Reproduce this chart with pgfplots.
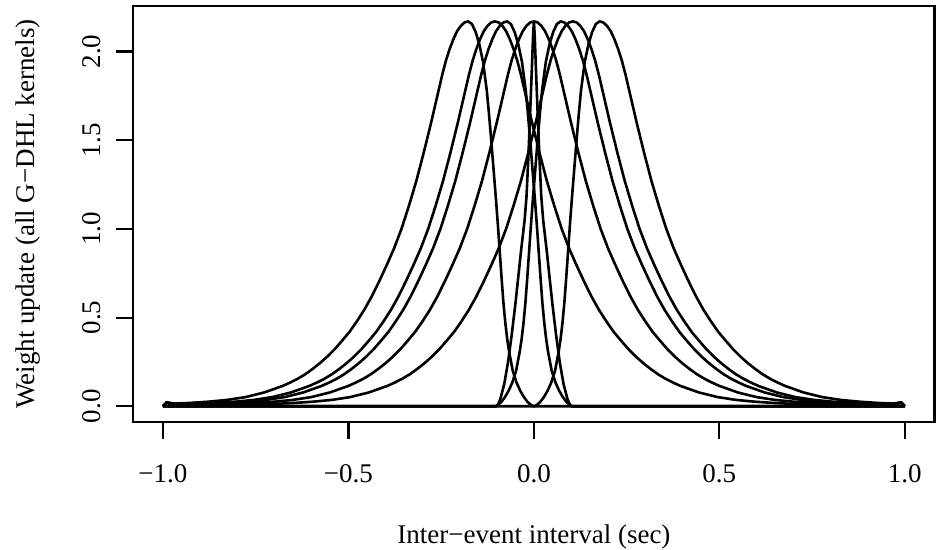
\documentclass[border=0pt]{standalone}
\usepackage{fontspec}
\setmainfont{Liberation Serif}
\usepackage{pgfplots}
\pgfplotsset{compat=1.18}
\newcommand\lbl{\fontsize{13.5}{16}\selectfont}
\begin{document}
\lbl
\begin{tikzpicture}
\useasboundingbox (-66.65pt,-64.15pt) rectangle (402.35pt,210.85pt);
\begin{axis}[
  scale only axis, width=400.6pt, height=207.85pt,
  xmin=-1.08, xmax=1.08, ymin=-0.0868, ymax=2.2568,
  axis line style={line width=1.1pt},
  tick style={line width=1.1pt, black},
  tick align=outside, major tick length=8.5pt,
  tick pos=left,
  xtick={-1,-0.5,0,0.5,1}, xticklabels={−1.0,−0.5,0.0,0.5,1.0},
  ytick={0,0.5,1,1.5,2}, yticklabels={0.0,0.5,1.0,1.5,2.0},
  xticklabel style={font=\lbl, anchor=base, yshift=-22.15pt},
  yticklabel style={font=\lbl, xshift=-7.9pt, rotate=90, anchor=base},
  xlabel={Inter−event interval (sec)},
  ylabel={Weight update (all G−DHL kernels)},
  every axis x label/.style={at={(rel axis cs:0.5,0)}, anchor=base, yshift=-61.15pt, font=\lbl},
  every axis y label/.style={at={(rel axis cs:0,0.5)}, xshift=-49.15pt, rotate=90, anchor=base, font=\lbl},
  no markers,
  every axis plot post/.append style={black, solid, mark=none, line width=1.3pt, line join=round},
]
% C : centred broad kernel
\addplot coordinates {(-1,0) (-0.99,0.02) (-0.95,0.0065) (-0.90,0.008) (-0.85,0.011) (-0.80,0.014) (-0.75,0.019) (-0.70,0.026) (-0.65,0.036) (-0.60,0.052) (-0.55,0.078) (-0.50,0.115) (-0.48,0.134) (-0.46,0.155) (-0.44,0.180) (-0.42,0.210) (-0.40,0.243) (-0.38,0.280) (-0.36,0.322) (-0.34,0.370) (-0.32,0.420) (-0.30,0.480) (-0.28,0.545) (-0.26,0.620) (-0.24,0.705) (-0.22,0.795) (-0.20,0.890) (-0.19,0.945) (-0.18,1.000) (-0.17,1.065) (-0.16,1.130) (-0.15,1.200) (-0.14,1.270) (-0.13,1.350) (-0.12,1.430) (-0.11,1.515) (-0.10,1.600) (-0.09,1.690) (-0.08,1.780) (-0.07,1.870) (-0.06,1.950) (-0.05,2.015) (-0.04,2.070) (-0.03,2.115) (-0.02,2.145) (-0.01,2.164) (0,2.170) (0.01,2.164) (0.02,2.145) (0.03,2.115) (0.04,2.070) (0.05,2.015) (0.06,1.950) (0.07,1.870) (0.08,1.780) (0.09,1.690) (0.10,1.600) (0.11,1.515) (0.12,1.430) (0.13,1.350) (0.14,1.270) (0.15,1.200) (0.16,1.130) (0.17,1.065) (0.18,1.000) (0.19,0.945) (0.20,0.890) (0.22,0.795) (0.24,0.705) (0.26,0.620) (0.28,0.545) (0.30,0.480) (0.32,0.420) (0.34,0.370) (0.36,0.322) (0.38,0.280) (0.40,0.243) (0.42,0.210) (0.44,0.180) (0.46,0.155) (0.48,0.134) (0.50,0.115) (0.55,0.078) (0.60,0.052) (0.65,0.036) (0.70,0.026) (0.75,0.019) (0.80,0.014) (0.85,0.011) (0.90,0.008) (0.95,0.0065) (0.99,0.02) (1,0)};
% P1 : peak -0.177, zero for x>0
\addplot coordinates {(-1,0) (-0.99,0.022) (-0.977,0.014) (-0.927,0.019) (-0.877,0.026) (-0.827,0.036) (-0.777,0.052) (-0.727,0.078) (-0.677,0.115) (-0.657,0.134) (-0.637,0.155) (-0.617,0.18) (-0.597,0.21) (-0.577,0.243) (-0.557,0.28) (-0.537,0.322) (-0.517,0.37) (-0.497,0.42) (-0.477,0.48) (-0.457,0.545) (-0.437,0.62) (-0.417,0.705) (-0.397,0.795) (-0.377,0.89) (-0.367,0.945) (-0.357,1.00) (-0.347,1.065) (-0.337,1.13) (-0.327,1.20) (-0.317,1.27) (-0.307,1.35) (-0.297,1.43) (-0.287,1.515) (-0.277,1.60) (-0.267,1.69) (-0.257,1.78) (-0.247,1.87) (-0.237,1.95) (-0.227,2.015) (-0.217,2.07) (-0.207,2.115) (-0.197,2.145) (-0.187,2.164) (-0.177,2.17) (-0.167,2.155) (-0.157,2.11) (-0.147,2.04) (-0.137,1.94) (-0.127,1.78) (-0.122,1.67) (-0.117,1.55) (-0.112,1.42) (-0.107,1.29) (-0.102,1.16) (-0.097,1.02) (-0.092,0.87) (-0.087,0.72) (-0.082,0.58) (-0.077,0.47) (-0.072,0.38) (-0.067,0.31) (-0.057,0.20) (-0.047,0.135) (-0.037,0.088) (-0.027,0.052) (-0.017,0.024) (-0.007,0.006) (0,0) (1,0)};
% P1' : peak 0.177, zero for x<0
\addplot coordinates {(-1,0) (0,0) (0.007,0.006) (0.017,0.024) (0.027,0.052) (0.037,0.088) (0.047,0.135) (0.057,0.20) (0.067,0.31) (0.072,0.38) (0.077,0.47) (0.082,0.58) (0.087,0.72) (0.092,0.87) (0.097,1.02) (0.102,1.16) (0.107,1.29) (0.112,1.42) (0.117,1.55) (0.122,1.67) (0.127,1.78) (0.137,1.94) (0.147,2.04) (0.157,2.11) (0.167,2.155) (0.177,2.17) (0.187,2.164) (0.197,2.145) (0.207,2.115) (0.217,2.07) (0.227,2.015) (0.237,1.95) (0.247,1.87) (0.257,1.78) (0.267,1.69) (0.277,1.60) (0.287,1.515) (0.297,1.43) (0.307,1.35) (0.317,1.27) (0.327,1.20) (0.337,1.13) (0.347,1.065) (0.357,1.00) (0.367,0.945) (0.377,0.89) (0.397,0.795) (0.417,0.705) (0.437,0.62) (0.457,0.545) (0.477,0.48) (0.497,0.42) (0.517,0.37) (0.537,0.322) (0.557,0.28) (0.577,0.243) (0.597,0.21) (0.617,0.18) (0.637,0.155) (0.657,0.134) (0.677,0.115) (0.727,0.078) (0.777,0.052) (0.827,0.036) (0.877,0.026) (0.927,0.019) (0.977,0.014) (0.99,0.022) (1,0)};
% P3' : peak 0.072
\addplot coordinates {(-1,0) (-0.105,0) (-0.098,0.006) (-0.088,0.024) (-0.078,0.052) (-0.068,0.088) (-0.058,0.135) (-0.048,0.20) (-0.038,0.31) (-0.033,0.38) (-0.028,0.47) (-0.023,0.58) (-0.018,0.72) (-0.013,0.87) (-0.008,1.02) (-0.003,1.16) (0.002,1.29) (0.007,1.42) (0.012,1.55) (0.017,1.67) (0.022,1.78) (0.032,1.94) (0.042,2.04) (0.052,2.11) (0.062,2.155) (0.072,2.17) (0.082,2.164) (0.092,2.145) (0.102,2.115) (0.112,2.07) (0.122,2.015) (0.132,1.95) (0.142,1.87) (0.152,1.78) (0.162,1.69) (0.172,1.60) (0.182,1.515) (0.192,1.43) (0.202,1.35) (0.212,1.27) (0.222,1.20) (0.232,1.13) (0.242,1.065) (0.252,1.00) (0.262,0.945) (0.272,0.89) (0.292,0.795) (0.312,0.705) (0.332,0.62) (0.352,0.545) (0.372,0.48) (0.392,0.42) (0.412,0.37) (0.432,0.322) (0.452,0.28) (0.472,0.243) (0.492,0.21) (0.512,0.18) (0.532,0.155) (0.552,0.134) (0.572,0.115) (0.622,0.078) (0.672,0.052) (0.722,0.036) (0.772,0.026) (0.822,0.019) (0.872,0.014) (0.922,0.011) (0.972,0.008) (0.99,0.022) (1,0)};
% P3 : peak -0.072
\addplot coordinates {(-1,0) (-0.99,0.022) (-0.972,0.008) (-0.922,0.011) (-0.872,0.014) (-0.822,0.019) (-0.772,0.026) (-0.722,0.036) (-0.672,0.052) (-0.622,0.078) (-0.572,0.115) (-0.552,0.134) (-0.532,0.155) (-0.512,0.18) (-0.492,0.21) (-0.472,0.243) (-0.452,0.28) (-0.432,0.322) (-0.412,0.37) (-0.392,0.42) (-0.372,0.48) (-0.352,0.545) (-0.332,0.62) (-0.312,0.705) (-0.292,0.795) (-0.272,0.89) (-0.262,0.945) (-0.252,1.00) (-0.242,1.065) (-0.232,1.13) (-0.222,1.20) (-0.212,1.27) (-0.202,1.35) (-0.192,1.43) (-0.182,1.515) (-0.172,1.60) (-0.162,1.69) (-0.152,1.78) (-0.142,1.87) (-0.132,1.95) (-0.122,2.015) (-0.112,2.07) (-0.102,2.115) (-0.092,2.145) (-0.082,2.164) (-0.072,2.17) (-0.062,2.155) (-0.052,2.11) (-0.042,2.04) (-0.032,1.94) (-0.022,1.78) (-0.017,1.67) (-0.012,1.55) (-0.007,1.42) (-0.002,1.29) (0.003,1.16) (0.008,1.02) (0.013,0.87) (0.018,0.72) (0.023,0.58) (0.028,0.47) (0.033,0.38) (0.038,0.31) (0.048,0.20) (0.058,0.135) (0.068,0.088) (0.078,0.052) (0.088,0.024) (0.098,0.006) (0.105,0) (1,0)};
% P2' : peak 0.105
\addplot coordinates {(-1,0) (-0.99,0.02) (-0.945,0.004) (-0.895,0.005) (-0.845,0.0065) (-0.795,0.008) (-0.745,0.011) (-0.695,0.014) (-0.645,0.019) (-0.595,0.026) (-0.545,0.036) (-0.495,0.052) (-0.445,0.078) (-0.395,0.115) (-0.375,0.134) (-0.355,0.155) (-0.335,0.18) (-0.315,0.21) (-0.295,0.243) (-0.275,0.28) (-0.255,0.322) (-0.235,0.37) (-0.215,0.42) (-0.195,0.48) (-0.175,0.545) (-0.155,0.62) (-0.135,0.705) (-0.115,0.795) (-0.095,0.89) (-0.085,0.945) (-0.075,1.00) (-0.065,1.065) (-0.055,1.13) (-0.045,1.20) (-0.035,1.27) (-0.025,1.35) (-0.015,1.43) (-0.005,1.515) (0.005,1.60) (0.015,1.69) (0.025,1.78) (0.035,1.87) (0.045,1.95) (0.055,2.015) (0.065,2.07) (0.075,2.115) (0.085,2.145) (0.095,2.164) (0.105,2.17) (0.115,2.164) (0.125,2.145) (0.135,2.115) (0.145,2.07) (0.155,2.015) (0.165,1.95) (0.175,1.87) (0.185,1.78) (0.195,1.69) (0.205,1.60) (0.215,1.515) (0.225,1.43) (0.235,1.35) (0.245,1.27) (0.255,1.20) (0.265,1.13) (0.275,1.065) (0.285,1.00) (0.295,0.945) (0.305,0.89) (0.325,0.795) (0.345,0.705) (0.365,0.62) (0.385,0.545) (0.405,0.48) (0.425,0.42) (0.445,0.37) (0.465,0.322) (0.485,0.28) (0.505,0.243) (0.525,0.21) (0.545,0.18) (0.565,0.155) (0.585,0.134) (0.605,0.115) (0.655,0.078) (0.705,0.052) (0.755,0.036) (0.805,0.026) (0.855,0.019) (0.905,0.014) (0.955,0.011) (0.99,0.022) (1,0)};
% P2 : peak -0.105
\addplot coordinates {(-1,0) (-0.99,0.022) (-0.955,0.011) (-0.905,0.014) (-0.855,0.019) (-0.805,0.026) (-0.755,0.036) (-0.705,0.052) (-0.655,0.078) (-0.605,0.115) (-0.585,0.134) (-0.565,0.155) (-0.545,0.18) (-0.525,0.21) (-0.505,0.243) (-0.485,0.28) (-0.465,0.322) (-0.445,0.37) (-0.425,0.42) (-0.405,0.48) (-0.385,0.545) (-0.365,0.62) (-0.345,0.705) (-0.325,0.795) (-0.305,0.89) (-0.295,0.945) (-0.285,1.00) (-0.275,1.065) (-0.265,1.13) (-0.255,1.20) (-0.245,1.27) (-0.235,1.35) (-0.225,1.43) (-0.215,1.515) (-0.205,1.60) (-0.195,1.69) (-0.185,1.78) (-0.175,1.87) (-0.165,1.95) (-0.155,2.015) (-0.145,2.07) (-0.135,2.115) (-0.125,2.145) (-0.115,2.164) (-0.105,2.17) (-0.095,2.164) (-0.085,2.145) (-0.075,2.115) (-0.065,2.07) (-0.055,2.015) (-0.045,1.95) (-0.035,1.87) (-0.025,1.78) (-0.015,1.69) (-0.005,1.60) (0.005,1.515) (0.015,1.43) (0.025,1.35) (0.035,1.27) (0.045,1.20) (0.055,1.13) (0.065,1.065) (0.075,1.00) (0.085,0.945) (0.095,0.89) (0.115,0.795) (0.135,0.705) (0.155,0.62) (0.175,0.545) (0.195,0.48) (0.215,0.42) (0.235,0.37) (0.255,0.322) (0.275,0.28) (0.295,0.243) (0.315,0.21) (0.335,0.18) (0.355,0.155) (0.375,0.134) (0.395,0.115) (0.445,0.078) (0.495,0.052) (0.545,0.036) (0.595,0.026) (0.645,0.019) (0.695,0.014) (0.745,0.011) (0.795,0.008) (0.845,0.0065) (0.895,0.005) (0.945,0.004) (0.99,0.02) (1,0)};
% S : narrow central kernel
\addplot coordinates {(-1,0) (-0.10,0) (-0.095,0.018) (-0.09,0.045) (-0.08,0.125) (-0.07,0.245) (-0.06,0.40) (-0.05,0.575) (-0.04,0.77) (-0.035,0.87) (-0.03,0.96) (-0.025,1.05) (-0.02,1.18) (-0.015,1.40) (-0.01,1.66) (-0.005,1.93) (-0.002,2.10) (0,2.17) (0.002,2.10) (0.005,1.93) (0.01,1.66) (0.015,1.40) (0.02,1.18) (0.025,1.05) (0.03,0.96) (0.035,0.87) (0.04,0.77) (0.05,0.575) (0.06,0.40) (0.07,0.245) (0.08,0.125) (0.09,0.045) (0.095,0.018) (0.10,0) (1,0)};
\end{axis}
\end{tikzpicture}
\end{document}
